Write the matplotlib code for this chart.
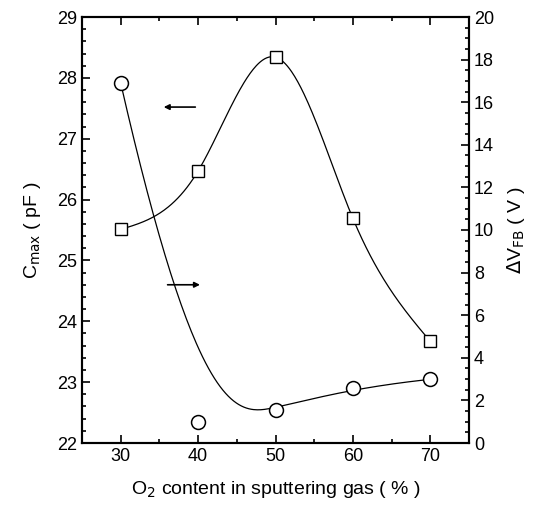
import numpy as np
import matplotlib
matplotlib.use("Agg")
import matplotlib.pyplot as plt
from matplotlib.ticker import MultipleLocator

plt.rcParams['font.family'] = ['Liberation Sans', 'DejaVu Sans']

# data
o2 = [30, 40, 50, 60, 70]
cmax = [25.51, 26.47, 28.34, 25.69, 23.67]      # squares, left axis (pF)
dvfb = [16.9, 1.0, 1.55, 2.6, 2.99]             # circles, right axis (V)


def natural_spline(x, y, n=300):
    # natural cubic spline through the points
    x = np.asarray(x, float)
    y = np.asarray(y, float)
    m = len(x)
    h = np.diff(x)
    A = np.zeros((m, m))
    r = np.zeros(m)
    A[0, 0] = A[-1, -1] = 1
    for i in range(1, m - 1):
        A[i, i - 1] = h[i - 1]
        A[i, i] = 2 * (h[i - 1] + h[i])
        A[i, i + 1] = h[i]
        r[i] = 6 * ((y[i + 1] - y[i]) / h[i] - (y[i] - y[i - 1]) / h[i - 1])
    M = np.linalg.solve(A, r)
    xs = np.linspace(x[0], x[-1], n)
    idx = np.clip(np.searchsorted(x, xs) - 1, 0, m - 2)
    x0, x1 = x[idx], x[idx + 1]
    hh = x1 - x0
    ys = (M[idx] * (x1 - xs) ** 3 / (6 * hh) + M[idx + 1] * (xs - x0) ** 3 / (6 * hh)
          + (y[idx] / hh - M[idx] * hh / 6) * (x1 - xs)
          + (y[idx + 1] / hh - M[idx + 1] * hh / 6) * (xs - x0))
    return xs, ys


def bspline(x, y, n=200):
    # clamped cubic B-spline with the points as control points
    P = np.column_stack([x, y]).astype(float)
    k = 3
    m = len(P)
    knots = np.concatenate([[0] * k, np.arange(m - k + 1), [m - k] * k]).astype(float)
    ts = np.linspace(0, m - k, n)
    ts[-1] -= 1e-9

    def basis(i, d, t):
        if d == 0:
            return 1.0 if knots[i] <= t < knots[i + 1] else 0.0
        a = 0.0
        if knots[i + d] != knots[i]:
            a = (t - knots[i]) / (knots[i + d] - knots[i]) * basis(i, d - 1, t)
        b = 0.0
        if knots[i + d + 1] != knots[i + 1]:
            b = (knots[i + d + 1] - t) / (knots[i + d + 1] - knots[i + 1]) * basis(i + 1, d - 1, t)
        return a + b

    pts = np.array([sum(basis(i, k, t) * P[i] for i in range(m)) for t in ts])
    return pts[:, 0], pts[:, 1]


fig = plt.figure(figsize=(5.36, 5.12), dpi=100)
ax = fig.add_axes([82 / 536, 1 - 443 / 512, (469 - 82) / 536, (443 - 17) / 512])
ax2 = ax.twinx()

sx, sy = natural_spline(o2, cmax)
ax.plot(sx, sy, color='black', lw=0.9)
ax.plot(o2, cmax, ls='none', marker='s', ms=8.5, mfc='white', mec='black', mew=1.0, zorder=5)

cx, cy = bspline(o2, dvfb)
ax2.plot(cx, cy, color='black', lw=0.9)
ax2.plot(o2, dvfb, ls='none', marker='o', ms=10, mfc='white', mec='black', mew=1.1, zorder=5)

ax.set_xlim(25, 75)
ax.set_ylim(22, 29)
ax2.set_ylim(0, 20)

ax.xaxis.set_major_locator(MultipleLocator(10))
ax.xaxis.set_minor_locator(MultipleLocator(5))
ax.yaxis.set_major_locator(MultipleLocator(1))
ax.yaxis.set_minor_locator(MultipleLocator(0.2))
ax2.yaxis.set_major_locator(MultipleLocator(2))
ax2.yaxis.set_minor_locator(MultipleLocator(0.5))

ax.tick_params(which='both', direction='in', top=True, labelsize=13, width=1.2)
ax.tick_params(which='major', length=6)
ax.tick_params(which='minor', length=3)
ax2.tick_params(which='both', direction='in', labelsize=13, width=1.2)
ax2.tick_params(which='major', length=6)
ax2.tick_params(which='minor', length=3)
for a in (ax, ax2):
    for s in a.spines.values():
        s.set_linewidth(1.5)

ax.set_ylabel(r'C$_{\rm max}$ ( pF )', fontsize=14, labelpad=10)
ax2.set_ylabel(r'$\Delta$V$_{\rm FB}$ ( V )', fontsize=14, labelpad=8)
ax.set_xlabel(r'O$_2$ content in sputtering gas ( % )', fontsize=14, labelpad=10)

# arrows pointing to the axis each curve belongs to
ax.annotate('', xy=(35.2, 27.52), xytext=(40.0, 27.52),
            arrowprops=dict(arrowstyle='-|>', color='black', lw=1.2, mutation_scale=8))
ax.annotate('', xy=(40.6, 24.6), xytext=(35.7, 24.6),
            arrowprops=dict(arrowstyle='-|>', color='black', lw=1.2, mutation_scale=8))

fig.savefig('out.png', dpi=100)
